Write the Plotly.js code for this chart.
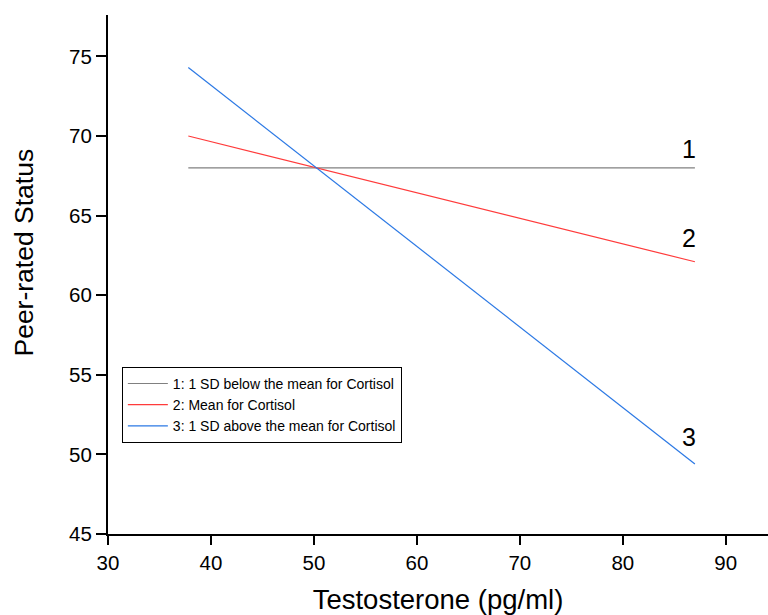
<!DOCTYPE html>
<html>
<head>
<meta charset="utf-8">
<script src="https://cdn.plot.ly/plotly-3.0.1.min.js"></script>
<style>html,body{margin:0;padding:0;background:#fff;}#chart{width:768px;height:615px;}</style>
</head>
<body>
<div id="chart"></div>
<script>
const seriesNames = ["1: 1 SD below the mean for Cortisol", "2: Mean for Cortisol", "3: 1 SD above the mean for Cortisol"];
const seriesLabels = ["1", "2", "3"];
const testosterone = [37.8, 87.0];
const statusLow = [68.0, 68.0];
const statusMean = [70.0, 62.1];
const statusHigh = [74.3, 49.4];
const labelX = [86.4, 86.4, 86.4];
const labelY = [69.2, 63.6, 51.1];
const colors = ["#808080", "#ff3b3b", "#2b78e4"];
const xTicks = [30, 40, 50, 60, 70, 80, 90];
const yTicks = [45, 50, 55, 60, 65, 70, 75];
const xTitle = 'Testosterone (pg/ml)';
const yTitle = 'Peer-rated Status';

const ys = [statusLow, statusMean, statusHigh];
const traces = ys.map((y, i) => ({
  x: testosterone, y: y, type: 'scatter', mode: 'lines',
  name: seriesNames[i], line: {color: colors[i], width: 1.2}
}));

const annotations = seriesLabels.map((t, i) => ({
  x: labelX[i], y: labelY[i], xref: 'x', yref: 'y', text: t, showarrow: false,
  font: {size: 25, color: '#000', family: 'Liberation Sans, Arial, sans-serif'}
}));
annotations.push({
  x: -0.128, y: 0.5414, xref: 'paper', yref: 'paper', xanchor: 'center', yanchor: 'middle',
  text: yTitle, textangle: -90, showarrow: false,
  font: {size: 26.5, color: '#000', family: 'Liberation Sans, Arial, sans-serif'}
});

const layout = {
  width: 768, height: 615,
  margin: {l: 108, r: 0, t: 15, b: 81},
  paper_bgcolor: '#fff', plot_bgcolor: '#fff',
  font: {family: 'Liberation Sans, Arial, sans-serif', color: '#000'},
  showlegend: true,
  legend: {
    x: 0.021, y: 0.322, xanchor: 'left', yanchor: 'top',
    bgcolor: '#fff', bordercolor: '#000', borderwidth: 1,
    font: {size: 14, color: '#000'}, tracegroupgap: 0, itemwidth: 40
  },
  xaxis: {
    range: [30, 94.1], tickvals: xTicks, ticktext: xTicks.map(String),
    showgrid: false, zeroline: false, showline: true, linecolor: '#000', linewidth: 2,
    ticks: 'outside', ticklen: 9, tickwidth: 2, tickcolor: '#000',
    tickfont: {size: 20.5}, title: {text: xTitle, font: {size: 27.5}, standoff: 17}
  },
  yaxis: {
    range: [45, 77.6], tickvals: yTicks, ticktext: yTicks.map(String),
    showgrid: false, zeroline: false, showline: true, linecolor: '#000', linewidth: 2,
    ticks: 'outside', ticklen: 10, tickwidth: 2, tickcolor: '#000',
    tickfont: {size: 20.5}
  },
  annotations: annotations
};

Plotly.newPlot('chart', traces, layout, {displayModeBar: false, staticPlot: true});
</script>
</body>
</html>
